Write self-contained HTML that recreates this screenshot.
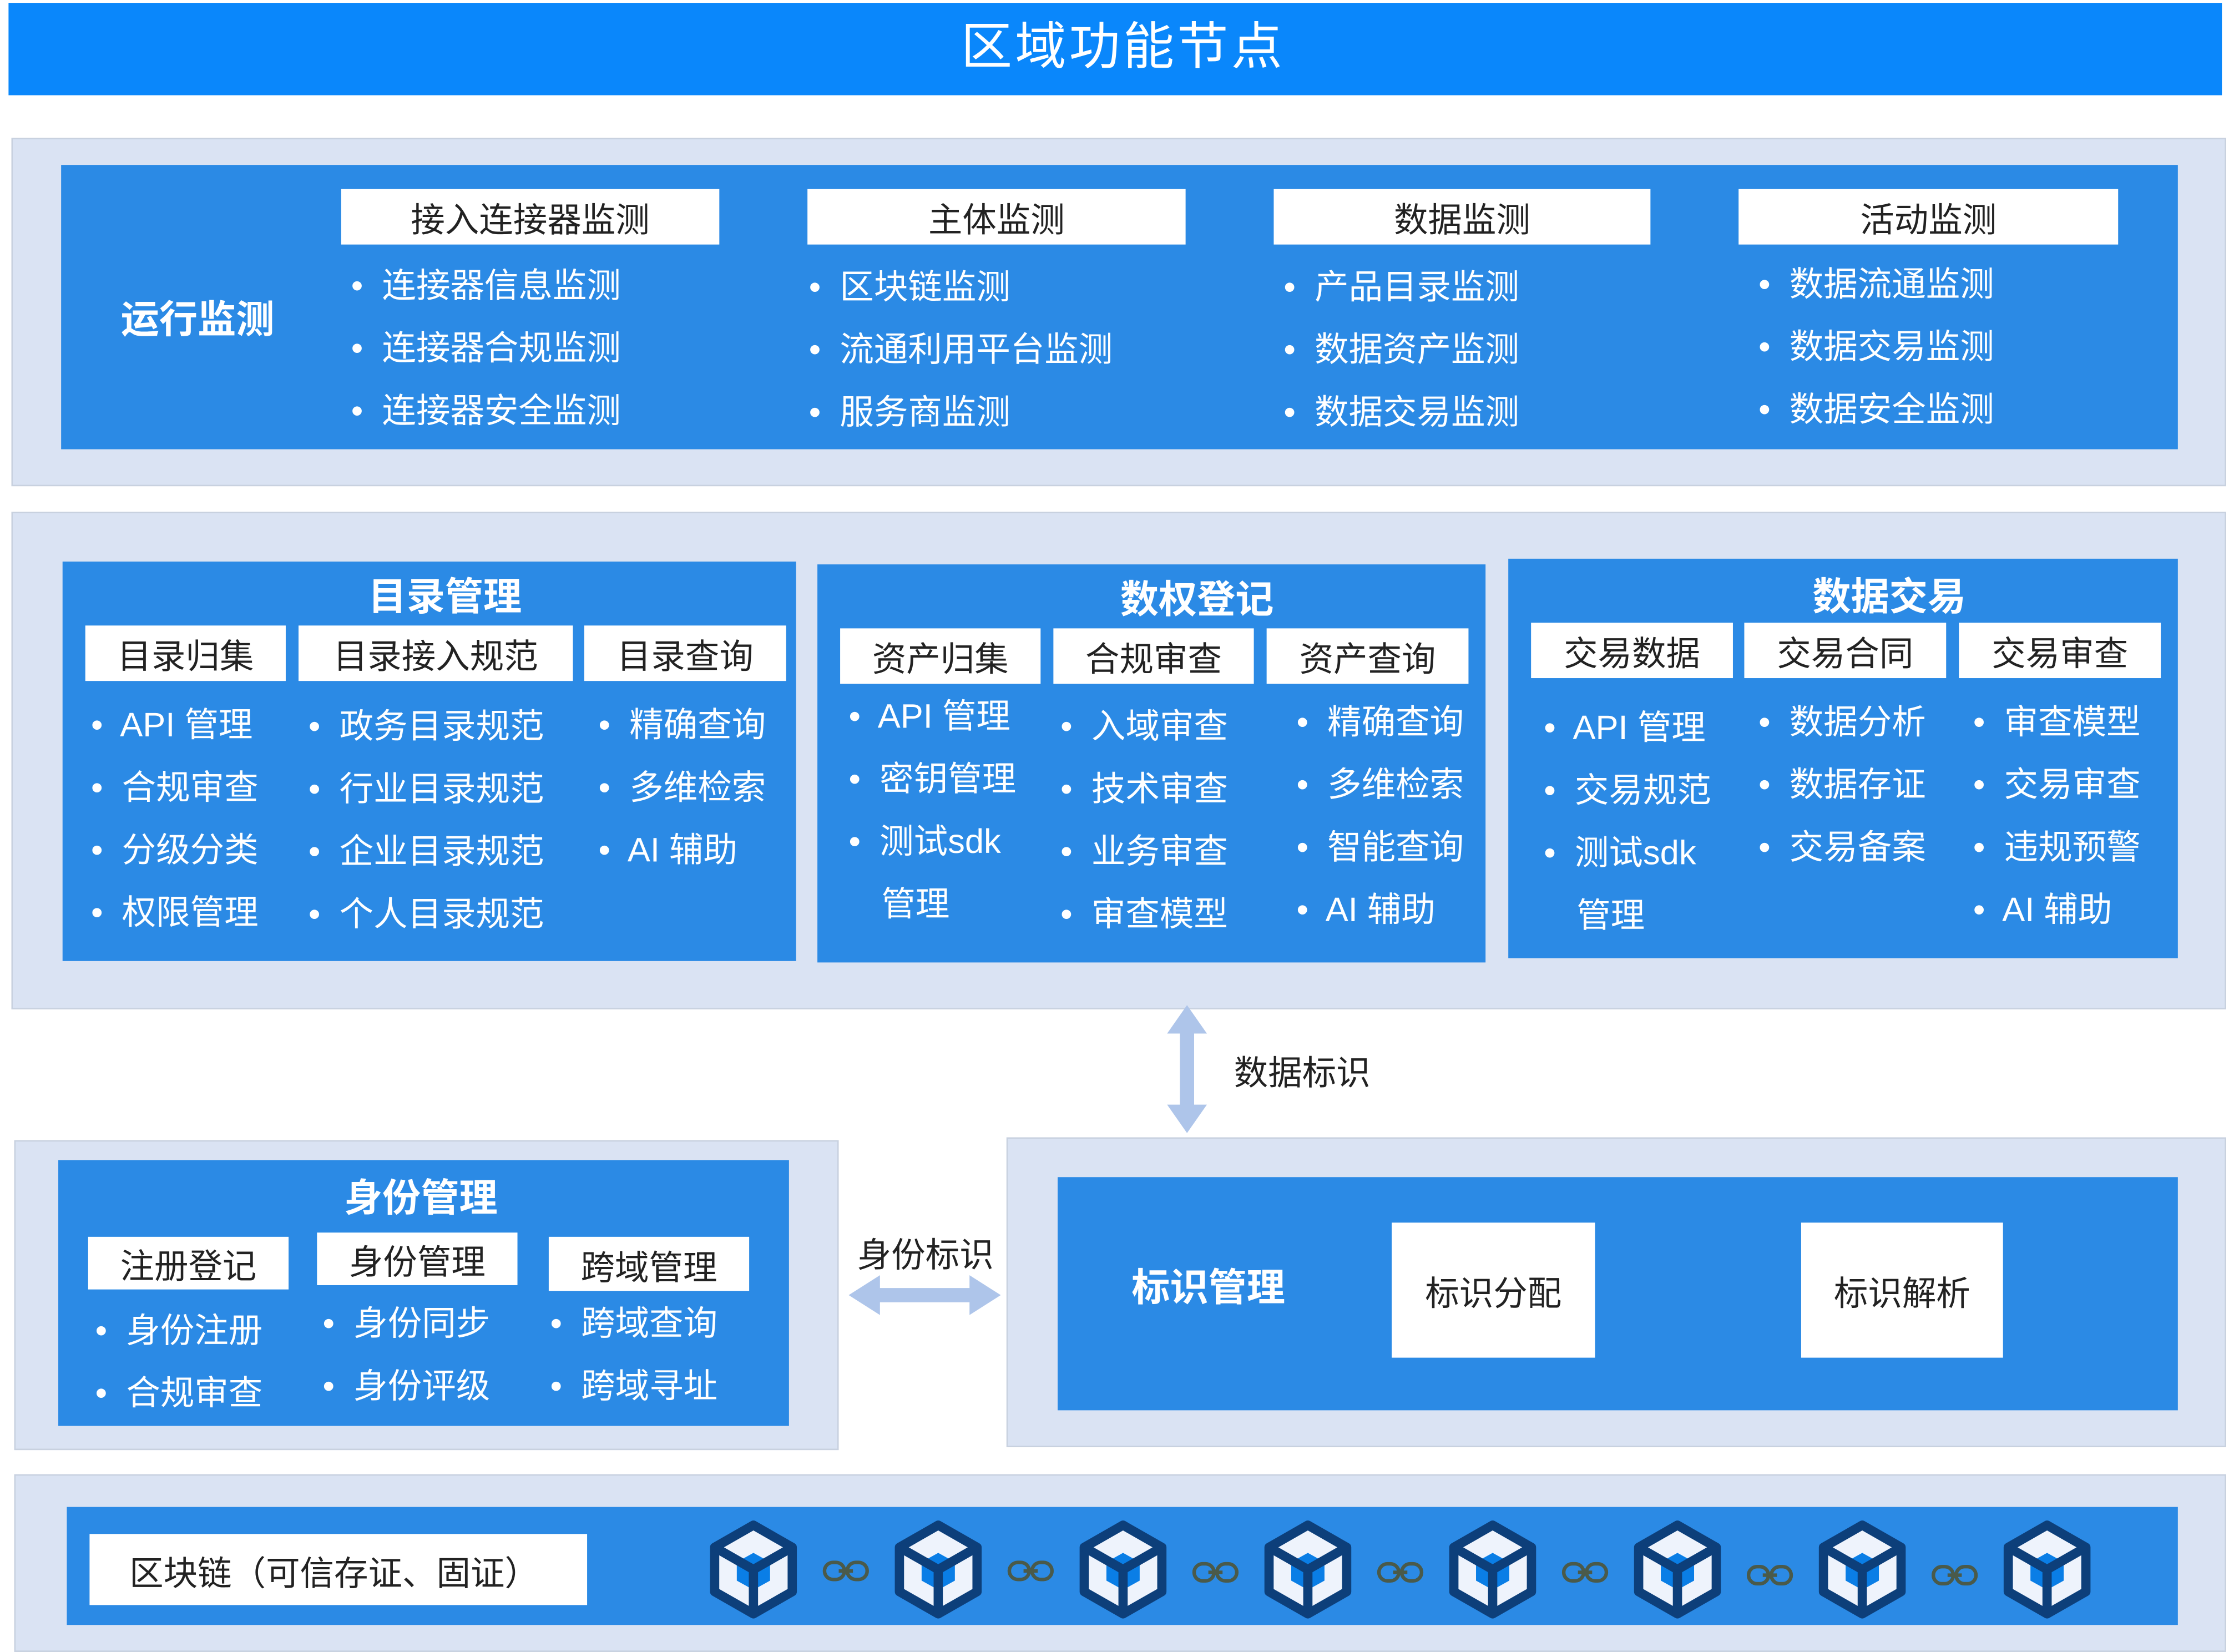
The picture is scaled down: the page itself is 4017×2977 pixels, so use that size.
<!DOCTYPE html>
<html><head><meta charset="utf-8"><style>
html,body{margin:0;padding:0;background:#fff;width:4017px;height:2976px;overflow:hidden}
#w{position:absolute;left:0;top:0;width:1568px;height:1162px;transform:scale(2.5619);transform-origin:0 0;font-family:"Liberation Sans","Noto Sans CJK SC",sans-serif}
.a{position:absolute;box-sizing:border-box}
.p{background:#dae3f3;border:1px solid #c8d1df}
.b{background:#2b8ae5}
.h{background:#fff;color:#222;font-size:24px;display:flex;align-items:center;justify-content:center;white-space:nowrap}
.t{position:absolute;white-space:nowrap;color:#fff;font-size:24px;line-height:30px;transform:translateY(-50%)}
.tb{font-weight:bold;font-size:27px}
.c{transform:translate(-50%,-50%)}
</style></head><body><div id="w">
<div class="a" style="left:6px;top:2px;width:1557px;height:65px;background:#0a87fb"></div>
<div class="t c" style="left:790px;top:33px;font-size:36px;line-height:40px;letter-spacing:2px">区域功能节点</div>

<div class="a p" style="left:8px;top:97px;width:1558px;height:245px"></div>
<div class="a b" style="left:43px;top:116px;width:1489px;height:200px"></div>
<div class="t tb" style="left:85px;top:225px">运行监测</div>
<div class="a h" style="left:240px;top:133px;width:266px;height:39px">接入连接器监测</div>
<div class="a h" style="left:568px;top:133px;width:266px;height:39px">主体监测</div>
<div class="a h" style="left:896px;top:133px;width:265px;height:39px">数据监测</div>
<div class="a h" style="left:1223px;top:133px;width:267px;height:39px">活动监测</div>
<div class="t" style="left:247px;top:202px">•&nbsp; 连接器信息监测</div>
<div class="t" style="left:247px;top:246px">•&nbsp; 连接器合规监测</div>
<div class="t" style="left:247px;top:290px">•&nbsp; 连接器安全监测</div>
<div class="t" style="left:569px;top:203px">•&nbsp; 区块链监测</div>
<div class="t" style="left:569px;top:247px">•&nbsp; 流通利用平台监测</div>
<div class="t" style="left:569px;top:291px">•&nbsp; 服务商监测</div>
<div class="t" style="left:903px;top:203px">•&nbsp; 产品目录监测</div>
<div class="t" style="left:903px;top:247px">•&nbsp; 数据资产监测</div>
<div class="t" style="left:903px;top:291px">•&nbsp; 数据交易监测</div>
<div class="t" style="left:1237px;top:201px">•&nbsp; 数据流通监测</div>
<div class="t" style="left:1237px;top:245px">•&nbsp; 数据交易监测</div>
<div class="t" style="left:1237px;top:289px">•&nbsp; 数据安全监测</div>

<div class="a p" style="left:8px;top:360px;width:1558px;height:350px"></div>
<div class="a b" style="left:44px;top:395px;width:516px;height:281px"></div>
<div class="a b" style="left:575px;top:397px;width:470px;height:280px"></div>
<div class="a b" style="left:1061px;top:393px;width:471px;height:281px"></div>
<div class="t tb c" style="left:313px;top:420px;transform:translate(-50%,-50%)">目录管理</div>
<div class="t tb c" style="left:842px;top:422px;transform:translate(-50%,-50%)">数权登记</div>
<div class="t tb c" style="left:1329px;top:420px;transform:translate(-50%,-50%)">数据交易</div>
<div class="a h" style="left:60px;top:440px;width:141px;height:39px">目录归集</div>
<div class="a h" style="left:210px;top:440px;width:193px;height:39px">目录接入规范</div>
<div class="a h" style="left:411px;top:440px;width:142px;height:39px">目录查询</div>
<div class="a h" style="left:591px;top:442px;width:141px;height:39px">资产归集</div>
<div class="a h" style="left:741px;top:442px;width:141px;height:39px">合规审查</div>
<div class="a h" style="left:891px;top:442px;width:142px;height:39px">资产查询</div>
<div class="a h" style="left:1077px;top:438px;width:142px;height:39px">交易数据</div>
<div class="a h" style="left:1227px;top:438px;width:142px;height:39px">交易合同</div>
<div class="a h" style="left:1378px;top:438px;width:142px;height:39px">交易审查</div>

<div class="t" style="left:64px;top:511px">•&nbsp; API 管理</div>
<div class="t" style="left:64px;top:555px">•&nbsp; 合规审查</div>
<div class="t" style="left:64px;top:599px">•&nbsp; 分级分类</div>
<div class="t" style="left:64px;top:643px">•&nbsp; 权限管理</div>
<div class="t" style="left:217px;top:512px">•&nbsp; 政务目录规范</div>
<div class="t" style="left:217px;top:556px">•&nbsp; 行业目录规范</div>
<div class="t" style="left:217px;top:600px">•&nbsp; 企业目录规范</div>
<div class="t" style="left:217px;top:644px">•&nbsp; 个人目录规范</div>
<div class="t" style="left:421px;top:511px">•&nbsp; 精确查询</div>
<div class="t" style="left:421px;top:555px">•&nbsp; 多维检索</div>
<div class="t" style="left:421px;top:599px">•&nbsp; AI 辅助</div>

<div class="t" style="left:597px;top:505px">•&nbsp; API 管理</div>
<div class="t" style="left:597px;top:549px">•&nbsp; 密钥管理</div>
<div class="t" style="left:597px;top:593px">•&nbsp; 测试sdk</div>
<div class="t" style="left:620px;top:637px">管理</div>
<div class="t" style="left:746px;top:512px">•&nbsp; 入域审查</div>
<div class="t" style="left:746px;top:556px">•&nbsp; 技术审查</div>
<div class="t" style="left:746px;top:600px">•&nbsp; 业务审查</div>
<div class="t" style="left:746px;top:644px">•&nbsp; 审查模型</div>
<div class="t" style="left:912px;top:509px">•&nbsp; 精确查询</div>
<div class="t" style="left:912px;top:553px">•&nbsp; 多维检索</div>
<div class="t" style="left:912px;top:597px">•&nbsp; 智能查询</div>
<div class="t" style="left:912px;top:641px">•&nbsp; AI 辅助</div>

<div class="t" style="left:1086px;top:513px">•&nbsp; API 管理</div>
<div class="t" style="left:1086px;top:557px">•&nbsp; 交易规范</div>
<div class="t" style="left:1086px;top:601px">•&nbsp; 测试sdk</div>
<div class="t" style="left:1109px;top:645px">管理</div>
<div class="t" style="left:1237px;top:509px">•&nbsp; 数据分析</div>
<div class="t" style="left:1237px;top:553px">•&nbsp; 数据存证</div>
<div class="t" style="left:1237px;top:597px">•&nbsp; 交易备案</div>
<div class="t" style="left:1388px;top:509px">•&nbsp; 审查模型</div>
<div class="t" style="left:1388px;top:553px">•&nbsp; 交易审查</div>
<div class="t" style="left:1388px;top:597px">•&nbsp; 违规预警</div>
<div class="t" style="left:1388px;top:641px">•&nbsp; AI 辅助</div>

<svg class="a" style="left:0;top:0" width="1568" height="1162">
<polygon points="835,707 849,727 840,727 840,777 849,777 835,797 821,777 830,777 830,727 821,727" fill="#aec5ea"/>
<polygon points="597,911 619,897 619,906 682,906 682,897 704,911 682,925 682,916 619,916 619,925" fill="#aec5ea"/>
</svg>
<div class="t" style="left:868px;top:756px;color:#222">数据标识</div>
<div class="t" style="left:603px;top:884px;color:#222">身份标识</div>

<div class="a p" style="left:10px;top:802px;width:580px;height:218px"></div>
<div class="a b" style="left:41px;top:816px;width:514px;height:187px"></div>
<div class="t tb" style="left:296px;top:843px;transform:translate(-50%,-50%)">身份管理</div>
<div class="a h" style="left:62px;top:870px;width:141px;height:37px">注册登记</div>
<div class="a h" style="left:223px;top:867px;width:141px;height:37px">身份管理</div>
<div class="a h" style="left:386px;top:870px;width:141px;height:38px">跨域管理</div>
<div class="t" style="left:67px;top:937px">•&nbsp; 身份注册</div>
<div class="t" style="left:67px;top:981px">•&nbsp; 合规审查</div>
<div class="t" style="left:227px;top:932px">•&nbsp; 身份同步</div>
<div class="t" style="left:227px;top:976px">•&nbsp; 身份评级</div>
<div class="t" style="left:387px;top:932px">•&nbsp; 跨域查询</div>
<div class="t" style="left:387px;top:976px">•&nbsp; 跨域寻址</div>

<div class="a p" style="left:708px;top:800px;width:858px;height:218px"></div>
<div class="a b" style="left:744px;top:828px;width:788px;height:164px"></div>
<div class="t tb" style="left:796px;top:906px">标识管理</div>
<div class="a h" style="left:979px;top:860px;width:143px;height:95px">标识分配</div>
<div class="a h" style="left:1267px;top:860px;width:142px;height:95px">标识解析</div>

<div class="a p" style="left:10px;top:1037px;width:1556px;height:125px"></div>
<div class="a b" style="left:47px;top:1060px;width:1485px;height:83px"></div>
<div class="a h" style="left:63px;top:1079px;width:350px;height:50px;justify-content:flex-start;padding-left:28px">区块链（可信存证、固证）</div>
<svg class="a" style="left:0;top:0" width="1568" height="1162">
<defs>
<g id="cube0">
<polygon points="0,-24 21,-12 21,12 0,24 -21,12 -21,-12" fill="#eef3fc" stroke="#0d3f7a" stroke-width="5" stroke-linejoin="round"/>
<polygon points="0,-9 9,-4 9,6 0,11 -9,6 -9,-4" fill="#0a7ee6"/>
<polyline points="-21,-12 0,0 21,-12" fill="none" stroke="#0d3f7a" stroke-width="5" stroke-linejoin="round"/>
<line x1="0" y1="0" x2="0" y2="24" stroke="#0d3f7a" stroke-width="5"/>
</g>
<g id="cube"><use href="#cube0" transform="scale(1.3)"/></g>
<g id="lk" fill="none" stroke="#4a5a4a" stroke-width="2.5">
<rect x="-15" y="-6" width="14" height="12" rx="6"/><rect x="1" y="-6" width="14" height="12" rx="6"/><line x1="-5" y1="0" x2="5" y2="0"/>
</g>
</defs>
<use href="#cube" x="530" y="1104"/><use href="#lk" x="595" y="1105"/>
<use href="#cube" x="660" y="1104"/><use href="#lk" x="725" y="1105"/>
<use href="#cube" x="790" y="1104"/><use href="#lk" x="855" y="1106"/>
<use href="#cube" x="920" y="1104"/><use href="#lk" x="985" y="1106"/>
<use href="#cube" x="1050" y="1104"/><use href="#lk" x="1115" y="1106"/>
<use href="#cube" x="1180" y="1104"/><use href="#lk" x="1245" y="1108"/>
<use href="#cube" x="1310" y="1104"/><use href="#lk" x="1375" y="1108"/>
<use href="#cube" x="1440" y="1104"/>
</svg>
</div></body></html>
